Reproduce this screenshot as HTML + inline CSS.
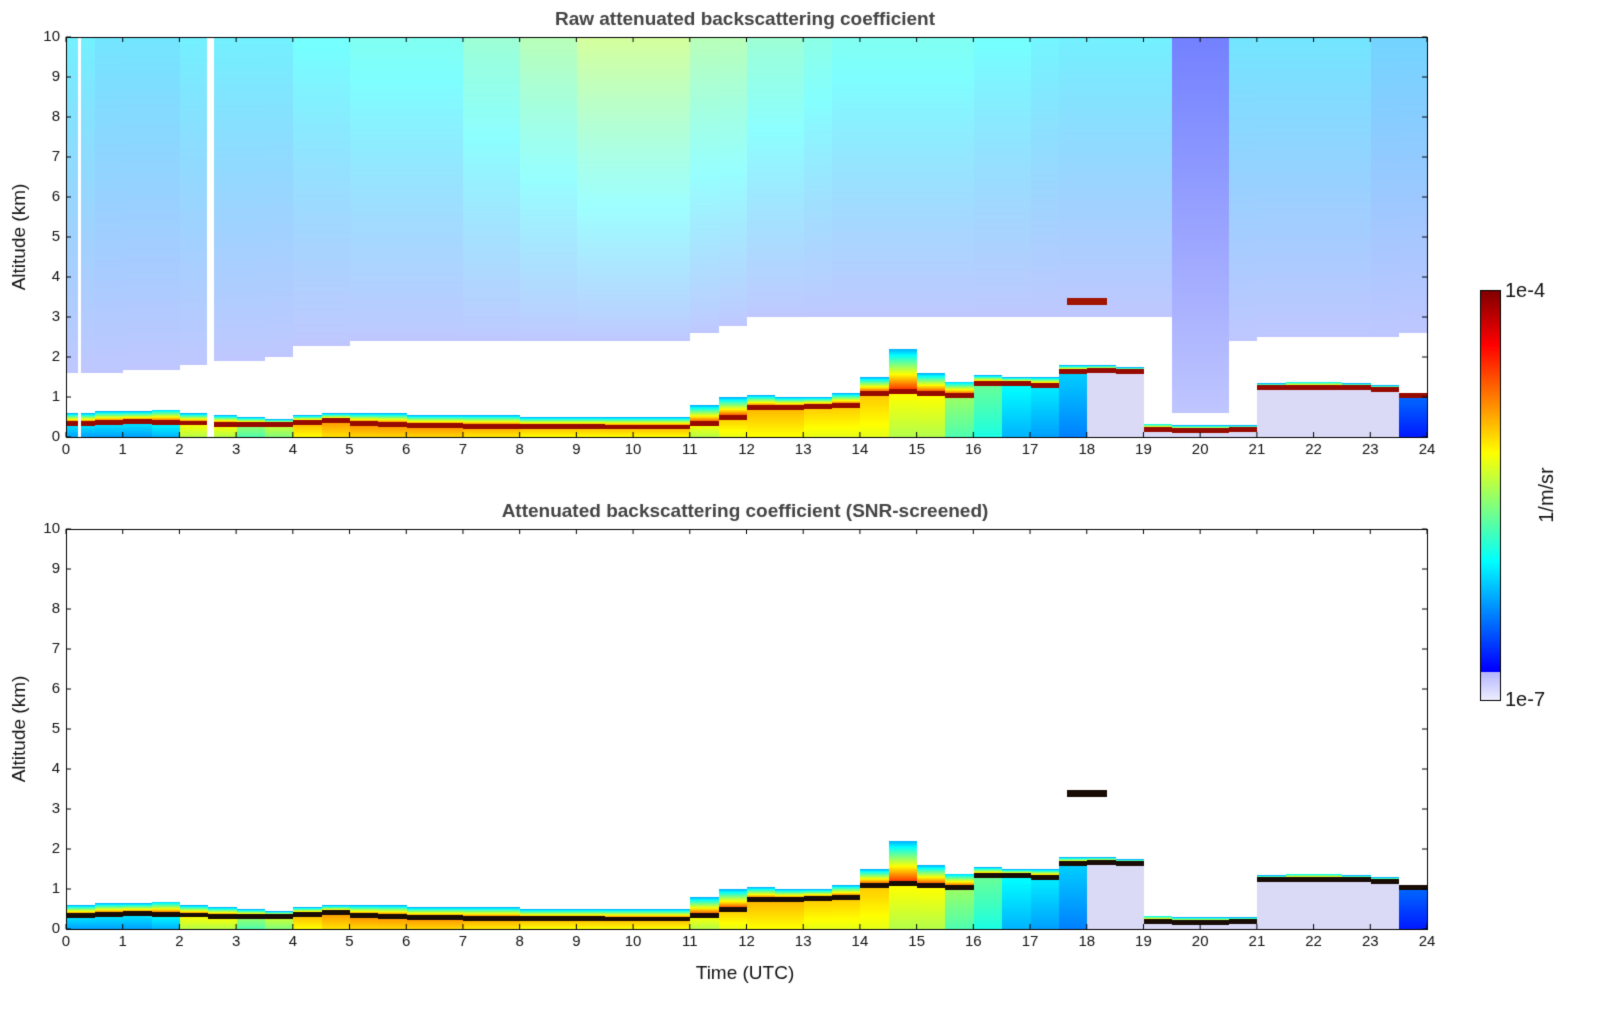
<!DOCTYPE html>
<html><head><meta charset="utf-8"><style>
html,body{margin:0;padding:0;background:#fff;overflow:hidden;}
#c{position:fixed;left:0;top:0;display:block;width:100vw;height:100vh}
</style></head><body>
<canvas id="c" width="1606" height="1020"></canvas>
<script>
// half-hour bins 0..47 covering 0-24 UTC
const hours=[...Array(48).keys()].map(i=>i*0.5);
const blTop=[0.6,0.65,0.65,0.7,0.6,0.55,0.5,0.45,0.55,0.6,0.6,0.6,0.55,0.55,0.55,0.55,0.5,0.5,0.5,0.5,0.5,0.5,
 0.8,1.0,1.05,1.0,1.0,1.1,1.5,2.2,1.6,1.4,1.55,1.5,1.5,1.8,1.8,1.75,0.35,0.3,0.3,0.3,1.35,1.4,1.4,1.35,1.3,1.1];
const lineH=[0.35,0.38,0.4,0.38,0.36,0.33,0.32,0.32,0.38,0.42,0.35,0.33,0.3,0.3,0.28,0.28,0.27,0.27,0.27,0.26,0.26,0.26,
 0.35,0.5,0.75,0.75,0.78,0.8,1.1,1.15,1.1,1.05,1.35,1.35,1.3,1.65,1.68,1.65,0.2,0.18,0.18,0.2,1.25,1.25,1.25,1.25,1.2,1.05];
const baseVal=[0.28,0.28,0.28,0.3,0.55,0.55,0.45,0.5,0.62,0.65,0.66,0.66,0.66,0.66,0.64,0.64,0.62,0.62,0.62,0.62,0.62,0.62,
 0.55,0.6,0.62,0.62,0.6,0.6,0.6,0.55,0.55,0.45,0.4,0.3,0.28,0.25,-1,-1,-1,-1,-1,-1,-1,-1,-1,-1,-1,0.15];
const noiseFloor=[1.6,1.6,1.7,1.7,1.8,1.9,1.9,2.0,2.3,2.3,2.4,2.4,2.4,2.4,2.4,2.4,2.4,2.4,2.4,2.4,2.4,2.4,
 2.6,2.8,3.0,3.0,3.0,3.0,3.0,3.0,3.0,3.0,3.0,3.0,3.0,3.0,3.0,3.0,3.0,0.6,0.6,2.4,2.5,2.5,2.5,2.5,2.5,2.6];
const bgTop=[0.35,0.33,0.33,0.33,0.35,0.35,0.35,0.35,0.38,0.38,0.4,0.4,0.4,0.4,0.45,0.45,0.5,0.5,0.55,0.55,0.55,0.55,
 0.5,0.5,0.45,0.45,0.42,0.4,0.4,0.4,0.4,0.4,0.38,0.38,0.36,0.35,0.35,0.35,0.35,0.15,0.15,0.33,0.33,0.33,0.33,0.33,0.3,0.3];
const xTicks=[...Array(25).keys()];
const yTicks=[...Array(11).keys()];

function jet(v){v=Math.max(0,Math.min(1,v));
 const r=Math.max(0,Math.min(1,1.5-Math.abs(4*v-3))),g=Math.max(0,Math.min(1,1.5-Math.abs(4*v-2))),b=Math.max(0,Math.min(1,1.5-Math.abs(4*v-1)));
 return [r*255,g*255,b*255];}
const c=document.getElementById('c'),ctx=c.getContext('2d');
const X0=66,X1=1427;
const plots=[{top:37,bot:437,raw:true},{top:529,bot:929,raw:false}];
const xs=h=>X0+(X1-X0)*h/24;
function draw(p){
 const H=p.bot-p.top,W=X1-X0;
 const img=ctx.createImageData(W,H);
 for(let px=0;px<W;px++){
  const h=px/W*24,i=Math.min(47,Math.floor(h*2));
  const top=blTop[i], ln=lineH[i];
  for(let py=0;py<H;py++){
   const z=(H-py)/H*10;let col=[255,255,255];
   if(z<=top){
     if(z>ln-0.06&&z<ln+0.06) col=p.raw?[150,10,0]:[25,12,5];
     else if(z>ln) {const f=(z-ln)/(top-ln+0.001);col=jet(0.85-0.55*f);}
     else if(baseVal[i]<0) col=[218,218,246];
     else col=jet(baseVal[i]+(z/ln)*0.08);
   }
   else if(p.raw && z>noiseFloor[i]){
     const f=(z-noiseFloor[i])/(10-noiseFloor[i]);
     const j=jet(0.15+(bgTop[i]-0.15)*Math.pow(f,0.7));
     const a=0.25+0.3*f;
     col=[255*(1-a)+j[0]*a,255*(1-a)+j[1]*a,255*(1-a)+j[2]*a];
   }
   if(Math.abs(h-18)<0.35&&Math.abs(z-3.4)<0.08) col=p.raw?[160,20,0]:[25,12,5];
   if(p.raw&&((h>2.48&&h<2.6)||(h>0.2&&h<0.25))) col=[255,255,255];
   const k=(py*W+px)*4;img.data[k]=col[0];img.data[k+1]=col[1];img.data[k+2]=col[2];img.data[k+3]=255;
  }}
 ctx.putImageData(img,X0,p.top);
 ctx.strokeStyle='#000';ctx.lineWidth=1;ctx.strokeRect(X0+0.5,p.top+0.5,W,H);
 ctx.fillStyle='#111';ctx.font='15px "Liberation Sans",sans-serif';
 ctx.textAlign='center';ctx.textBaseline='top';
 xTicks.forEach(t=>{const x=xs(t);ctx.beginPath();ctx.moveTo(x,p.bot);ctx.lineTo(x,p.bot-5);ctx.moveTo(x,p.top);ctx.lineTo(x,p.top+5);ctx.stroke();ctx.fillText(t,x,p.bot+5);});
 ctx.textAlign='right';ctx.textBaseline='middle';
 yTicks.forEach(t=>{const y=p.bot-H*t/10;ctx.beginPath();ctx.moveTo(X0,y);ctx.lineTo(X0+5,y);ctx.moveTo(X1,y);ctx.lineTo(X1-5,y);ctx.stroke();ctx.fillText(t,X0-6,y);});
 ctx.save();ctx.translate(20,(p.top+p.bot)/2);ctx.rotate(-Math.PI/2);ctx.textAlign='center';ctx.font='19px "Liberation Sans",sans-serif';ctx.fillText('Altitude (km)',0,0);ctx.restore();
}
plots.forEach(draw);
ctx.fillStyle='#444';ctx.font='bold 19px "Liberation Sans",sans-serif';ctx.textAlign='center';ctx.textBaseline='middle';
ctx.fillText('Raw attenuated backscattering coefficient',745,20);
ctx.fillText('Attenuated backscattering coefficient (SNR-screened)',745,512);
ctx.fillStyle='#111';ctx.font='19px "Liberation Sans",sans-serif';ctx.fillText('Time (UTC)',745,974);
for(let y=290;y<700;y++){const v=(700-y)/410;let col;
 if(v<0.07){const a=v/0.07;col=[240-60*a,240-60*a,255];}else col=jet(0.12+0.88*(v-0.07)/0.93);
 ctx.fillStyle=`rgb(${col[0]|0},${col[1]|0},${col[2]|0})`;ctx.fillRect(1480,y,20,1);}
ctx.strokeStyle='#000';ctx.strokeRect(1480.5,290.5,20,410);
ctx.fillStyle='#111';ctx.font='20px "Liberation Sans",sans-serif';ctx.textAlign='left';
ctx.fillText('1e-4',1505,291);ctx.fillText('1e-7',1505,700);
ctx.save();ctx.translate(1547,495);ctx.rotate(-Math.PI/2);ctx.textAlign='center';ctx.fillText('1/m/sr',0,0);ctx.restore();
</script>
</body></html>
